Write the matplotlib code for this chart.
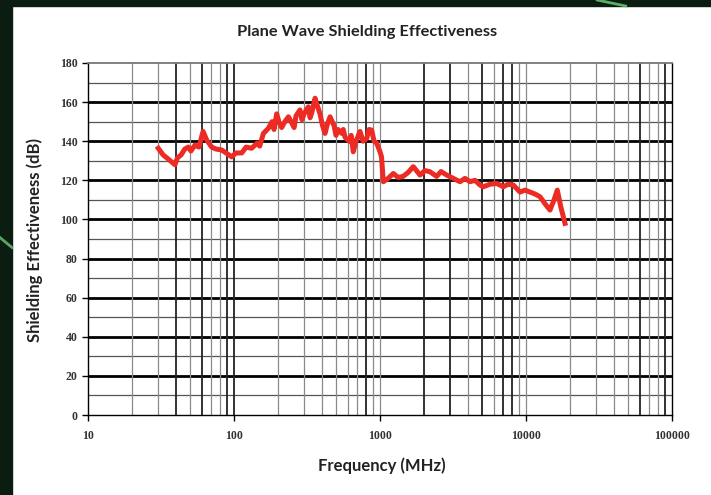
import matplotlib
matplotlib.use('Agg')
import matplotlib.pyplot as plt
from matplotlib.patches import Rectangle
from matplotlib.lines import Line2D

freq_mhz = [30.3, 32.7, 35.3, 39.4, 41.0, 43.4, 46.0, 48.6, 50.7, 54.0,
            57.5, 61.4, 65, 70.3, 75.3, 82.4, 88.2, 96.4, 103, 113,
            121, 132, 144, 150, 159, 172, 182, 188, 196, 203,
            212, 223, 236, 250, 258, 266, 283, 292, 302, 323,
            332, 342, 359, 373, 388, 404, 420, 437, 455, 484,
            500, 516, 547, 560, 576, 614, 635, 656, 685, 730,
            765, 811, 841, 877, 910, 949, 1000, 1024, 1054, 1136,
            1234, 1328, 1438, 1556, 1691, 1879, 2032, 2198, 2443, 2616,
            2863, 3177, 3530, 3820, 4132, 4474, 4840, 5098, 5664, 6295,
            6995, 7532, 8190, 9100, 9845, 10650, 11530, 12480, 13500, 14600,
            15560, 16380, 17370, 18500]
se_db = [136.4, 133, 131, 128, 131.5, 133, 136, 137, 135, 138,
         137, 145, 140.6, 137, 136, 135.5, 134, 132, 134, 134,
         137, 136.4, 139, 137.5, 144, 146.6, 150, 146, 154, 150,
         147, 150, 152.5, 149, 147, 153, 156, 151, 154, 157.6,
         152, 155, 162, 158, 154, 148, 144, 149, 152.5, 148,
         143, 146, 144, 146, 142, 140, 143, 134.6, 140, 145,
         140, 141.4, 146, 145.7, 140, 139, 134.6, 132, 119.3, 121,
         123.5, 121.5, 122, 124, 127, 122.7, 125, 124.4, 122, 124.5,
         122.7, 121, 119.3, 121, 119.3, 120, 117.6, 116.7, 118, 118.4,
         116.7, 118, 117.6, 114, 115, 114, 113, 111.6, 108, 104.8,
         110, 115, 106, 98]

title = 'Plane Wave Shielding Effectiveness'
x_label = 'Frequency (MHz)'
y_label = 'Shielding Effectiveness (dB)'
x_ticks = [10, 100, 1000, 10000, 100000]
x_tick_labels = ['10', '100', '1000', '10000', '100000']
y_ticks = list(range(0, 181, 20))

# vertical minor lines that look darker in the original
dark_minor = [40, 60, 90, 100, 800, 2000, 3000, 5000, 7000, 8000, 60000, 90000]

fig = plt.figure(figsize=(7.11, 4.95), dpi=100)
fig.patch.set_facecolor('white')

# dark photo frame around the slide
fig.patches.append(Rectangle((0, 0), 12 / 711, 1, transform=fig.transFigure,
                             color='#0b1c10', zorder=0))
fig.patches.append(Rectangle((0, 1 - 6 / 495), 1, 6 / 495, transform=fig.transFigure,
                             color='#0b1c10', zorder=0))
fig.lines.append(Line2D([0.84, 0.88], [1, 1 - 6 / 495], transform=fig.transFigure,
                        color='#6fd27a', lw=2, alpha=0.8))
fig.lines.append(Line2D([0.0, 12 / 711], [0.52, 0.50], transform=fig.transFigure,
                        color='#7be08a', lw=2, alpha=0.7))

ax = fig.add_axes([88 / 711, 1 - 415 / 495, (672 - 88) / 711, (415 - 63) / 495])
ax.set_xscale('log')
ax.set_xlim(10, 100000)
ax.set_ylim(0, 180)

# horizontal grid
for y in range(10, 180, 20):
    ax.axhline(y, color='#555555', lw=0.9, zorder=1)
for y in range(20, 180, 20):
    ax.axhline(y, color='black', lw=2.0, zorder=1)

# vertical grid
for dec in [10, 100, 1000, 10000]:
    for m in range(2, 11):
        v = dec * m
        if v >= 100000:
            continue
        if v in dark_minor:
            ax.axvline(v, color='#222222', lw=1.3, zorder=1)
        else:
            ax.axvline(v, color='#8a8a8a', lw=0.9, zorder=1)

ax.plot(freq_mhz, se_db, color='#ec2b25', lw=3.6, solid_joinstyle='round', zorder=3)

for side in ['left', 'bottom', 'right']:
    ax.spines[side].set_color('black')
    ax.spines[side].set_linewidth(1.0)
ax.spines['top'].set_color('#777777')
ax.spines['top'].set_linewidth(1.3)

ax.set_xticks(x_ticks)
ax.set_xticklabels(x_tick_labels)
ax.minorticks_off()
ax.set_yticks(y_ticks)
ax.tick_params(axis='both', direction='out', length=4, width=1, color='black',
               labelsize=8.5, labelcolor='#333333')
for lab in ax.get_xticklabels() + ax.get_yticklabels():
    lab.set_family('Liberation Serif')
    lab.set_fontweight('bold')
ax.tick_params(axis='x', pad=7)

fig.text(367 / 711, 1 - 32 / 495, title, ha='center', va='center',
         fontsize=11.8, fontweight='bold', family='Lato', color='#222222')
fig.text(382 / 711, 1 - 466 / 495, x_label, ha='center', va='center',
         fontsize=12, fontweight='bold', family='Lato', color='#222222')
fig.text(35 / 711, 1 - 240 / 495, y_label, ha='center', va='center', rotation=90,
         fontsize=12, fontweight='bold', family='Lato', color='#222222')

fig.savefig('out.png', dpi=100, facecolor=fig.get_facecolor())
